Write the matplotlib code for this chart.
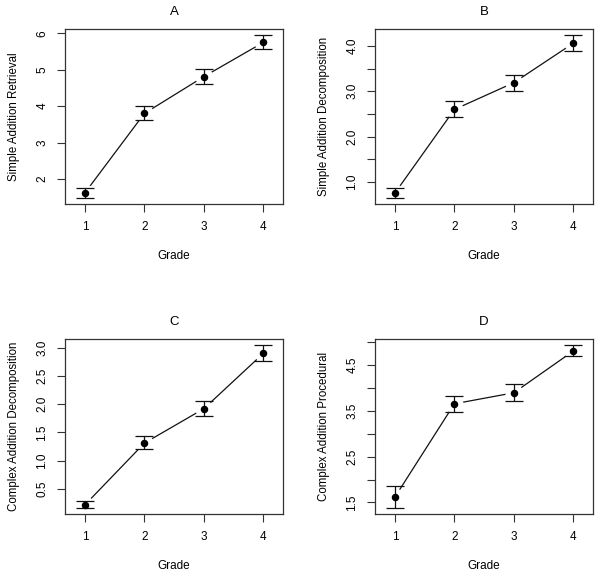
import numpy as np
import matplotlib
matplotlib.use("Agg")
import matplotlib.pyplot as plt

plt.rcParams['font.family'] = ['Liberation Sans', 'DejaVu Sans']

grades = [1, 2, 3, 4]

# Panel A: Simple Addition Retrieval
a_mean = [1.62, 3.80, 4.81, 5.75]
a_low = [1.49, 3.62, 4.61, 5.57]
a_high = [1.76, 3.99, 5.01, 5.94]

# Panel B: Simple Addition Decomposition
b_mean = [0.76, 2.60, 3.19, 4.06]
b_low = [0.66, 2.43, 3.00, 3.88]
b_high = [0.86, 2.78, 3.37, 4.23]

# Panel C: Complex Addition Decomposition
c_mean = [0.216, 1.31, 1.92, 2.90]
c_low = [0.168, 1.20, 1.785, 2.76]
c_high = [0.275, 1.43, 2.05, 3.04]

# Panel D: Complex Addition Procedural
d_mean = [1.62, 3.65, 3.89, 4.80]
d_low = [1.39, 3.48, 3.72, 4.68]
d_high = [1.85, 3.83, 4.07, 4.92]

panels = [
    ("A", "Simple Addition Retrieval", a_mean, a_low, a_high,
     [2, 3, 4, 5, 6], ["2", "3", "4", "5", "6"]),
    ("B", "Simple Addition Decomposition", b_mean, b_low, b_high,
     [1.0, 1.5, 2.0, 2.5, 3.0, 3.5, 4.0], ["1.0", "", "2.0", "", "3.0", "", "4.0"]),
    ("C", "Complex Addition Decomposition", c_mean, c_low, c_high,
     [0.5, 1.0, 1.5, 2.0, 2.5, 3.0], ["0.5", "1.0", "1.5", "2.0", "2.5", "3.0"]),
    ("D", "Complex Addition Procedural", d_mean, d_low, d_high,
     [1.5, 2.0, 2.5, 3.0, 3.5, 4.0, 4.5, 5.0], ["1.5", "", "2.5", "", "3.5", "", "4.5", ""]),
]

fig = plt.figure(figsize=(6.0, 5.75), dpi=100)
W, H = 600, 575
boxes = [(65, 29), (375, 29), (65, 339), (375, 339)]
bw, bh = 218.3, 175

fs = 8.5
for (title, ylab, m, lo, hi, yt, ytl), (x0, y0) in zip(panels, boxes):
    ax = fig.add_axes([x0 / W, 1 - (y0 + bh) / H, bw / W, bh / H])
    m = np.array(m); lo = np.array(lo); hi = np.array(hi)
    # line (R type="b" style: gap around points)
    ax.plot(grades, m, color='#111111', lw=0.9, zorder=1)
    ax.plot(grades, m, 'o', ms=13, color='white', mec='none', zorder=2)
    ax.errorbar(grades, m, yerr=[m - lo, hi - m], fmt='none', ecolor='#111111',
                elinewidth=0.9, capsize=6.5, capthick=0.9, zorder=3)
    ax.plot(grades, m, 'o', ms=4.4, color='black', zorder=4)

    # R-style 4% range extension
    ymin, ymax = lo.min(), hi.max()
    pad = 0.04 * (ymax - ymin)
    ax.set_ylim(ymin - pad, ymax + pad)
    xl0, xl1 = 0.8, 4.2
    xp = 0.04 * (xl1 - xl0)
    ax.set_xlim(xl0 - xp, xl1 + xp)

    ax.set_xticks(grades)
    ax.set_xticklabels([str(g) for g in grades])
    ax.set_yticks(yt)
    ax.set_yticklabels(ytl, rotation=90, va='center')
    ax.tick_params(axis='both', length=5.5, width=0.8, labelsize=fs, pad=6.5, color='#333333')
    for s in ax.spines.values():
        s.set_linewidth(0.9)
        s.set_color('#333333')

    ax.set_title(title, fontsize=9.5, y=1.097, va='center', pad=0)
    ax.set_ylabel(ylab, fontsize=8.3)
    ax.yaxis.set_label_coords(-0.234, 0.5)
    ax.set_xlabel("Grade", fontsize=fs)
    ax.xaxis.set_label_coords(0.5, -0.297)
    ax.xaxis.label.set_va('center')
    ax.yaxis.label.set_va('center')

fig.savefig("out.png", dpi=100)
